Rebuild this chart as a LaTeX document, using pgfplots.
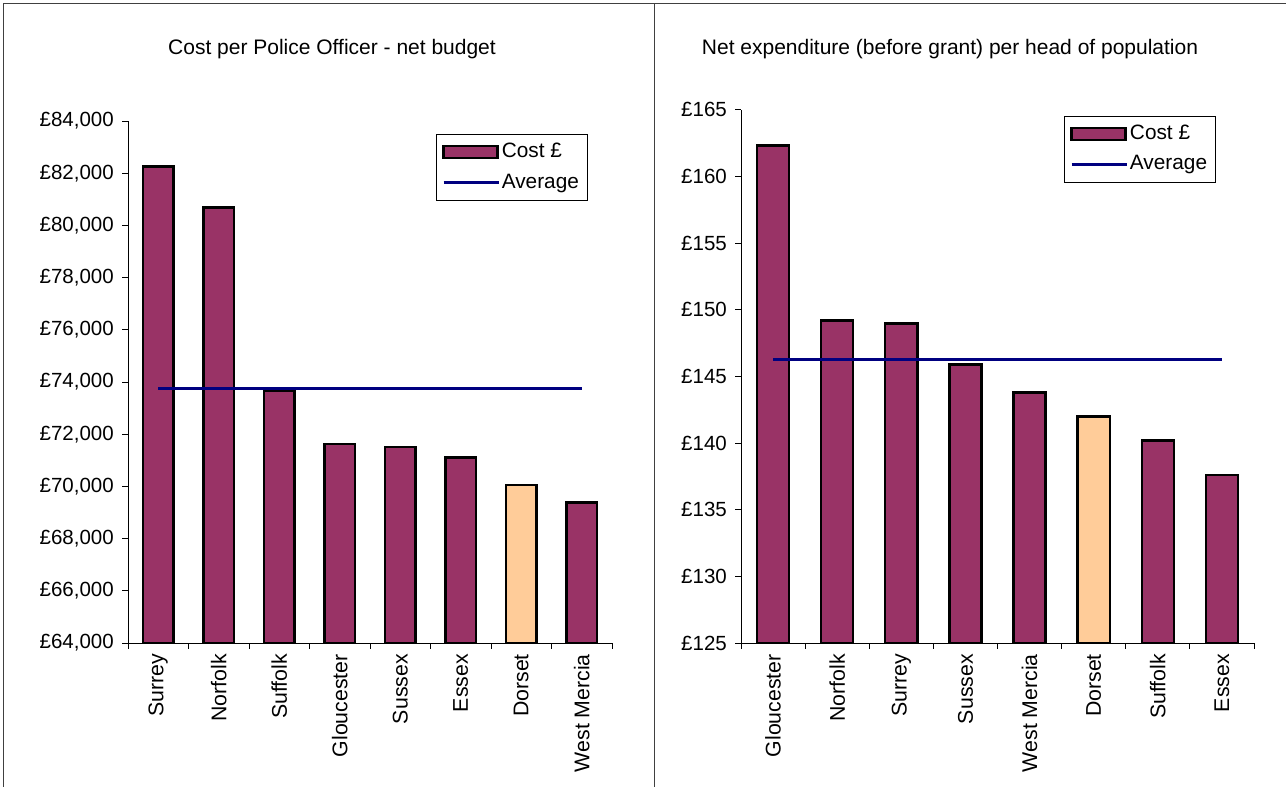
\documentclass[border=0pt]{standalone}
\usepackage{pgfplots}
\pgfplotsset{compat=1.18}
\usepackage{fontspec}
\setmainfont{Liberation Sans}
\definecolor{barc}{HTML}{993366}
\definecolor{dorc}{HTML}{FFCC99}
\definecolor{avgc}{HTML}{000080}
\pgfplotsset{
  excelbar/.style={
    scale only axis,
    xmin=-0.5, xmax=7.5,
    axis x line*=bottom, axis y line*=left,
    axis line style={black, line width=0.8bp, -},
    xtick={0,...,7},
    major x tick style={draw=none},
    minor xtick={-0.5,0.5,...,7.5},
    minor tick length=6bp,
    major tick length=6bp,
    tick align=outside,
    tick style={black, line width=0.8bp},
    x tick label style={rotate=90, anchor=east, inner sep=0pt, font=\fontsize{21.3bp}{25bp}\selectfont},
    xticklabel shift=5bp,
    scaled y ticks=false,
    yticklabel={\pounds\pgfmathprintnumber[assume math mode=true,fixed,precision=0,1000 sep={,}]{\tick}},
    y tick label style={inner sep=0pt, xshift=-8bp},
    legend style={draw=black, line width=0.8bp, fill=white, anchor=north west,
      inner xsep=6bp, inner ysep=7bp, row sep=9bp, cells={anchor=west},
      font=\fontsize{20.8bp}{24bp}\selectfont},
    legend cell align=left,
  },
  barleg/.style={legend image code/.code={\draw[fill=barc, draw=black, line width=2.4bp] (0bp,-6bp) rectangle (54bp,6bp);}},
  lineleg/.style={legend image code/.code={\draw[avgc, line width=2.6bp] (0bp,0bp) -- (55bp,0bp);}},
}
\begin{document}
\fontsize{20.5bp}{24bp}\selectfont
\begin{tikzpicture}[x=1bp,y=1bp]
\path[use as bounding box] (0,0) rectangle (1286,787);
\draw[black!75, line width=1.4bp] (3.5,0) -- (3.5,783.5) -- (1286,783.5);
\draw[black!75, line width=1.4bp] (654.5,0) -- (654.5,783.5);
\node[font=\fontsize{21bp}{25bp}\selectfont] at (332,738) {Cost per Police Officer - net budget};
\node[font=\fontsize{21bp}{25bp}\selectfont] at (950,738) {Net expenditure (before grant) per head of population};

\begin{axis}[excelbar,
  at={(128bp,144bp)}, anchor=south west,
  width=484bp, height=522bp,
  ymin=64000, ymax=84000, ytick={64000,66000,...,84000},
  xticklabels={Surrey,Norfolk,Suffolk,Gloucester,Sussex,Essex,Dorset,West Mercia},
  legend style={at={(0.636,0.975)}},
]
\addplot[ybar, bar shift=0pt, bar width=0.5, fill=barc, draw=black, line width=2.4bp, barleg]
  coordinates {(0,82250) (1,80690) (2,73670) (3,71620) (4,71500) (5,71100) (7,69390)};
\addlegendentry{Cost \pounds}
\addplot[ybar, bar shift=0pt, bar width=0.5, fill=dorc, draw=black, line width=2.4bp, forget plot]
  coordinates {(6,70060)};
\addplot[avgc, line width=2.6bp, mark=none, lineleg] coordinates {(0,73760) (7,73760)};
\addlegendentry{Average}
\end{axis}

\begin{axis}[excelbar,
  at={(741bp,144bp)}, anchor=south west,
  width=513bp, height=533.3bp,
  ymin=125, ymax=165, ytick={125,130,...,165},
  xticklabels={Gloucester,Norfolk,Surrey,Sussex,West Mercia,Dorset,Suffolk,Essex},
  legend style={at={(0.6296,0.9888)}},
]
\addplot[ybar, bar shift=0pt, bar width=0.5, fill=barc, draw=black, line width=2.4bp, barleg]
  coordinates {(0,162.3) (1,149.2) (2,148.95) (3,145.9) (4,143.8) (6,140.2) (7,137.6)};
\addlegendentry{Cost \pounds}
\addplot[ybar, bar shift=0pt, bar width=0.5, fill=dorc, draw=black, line width=2.4bp, forget plot]
  coordinates {(5,142.0)};
\addplot[avgc, line width=2.6bp, mark=none, lineleg] coordinates {(0,146.25) (7,146.25)};
\addlegendentry{Average}
\end{axis}
\end{tikzpicture}
\end{document}
